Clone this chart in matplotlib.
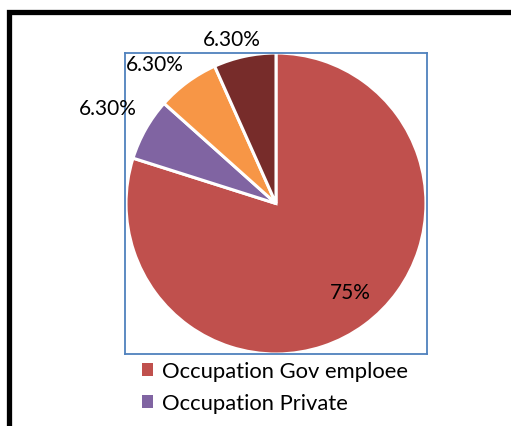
import numpy as np
import matplotlib.pyplot as plt
from matplotlib.patches import Rectangle, Patch

# values as shown in the data labels (Excel normalises them for the pie)
values = [75, 6.3, 6.3, 6.3]
labels = ['75%', '6.30%', '6.30%', '6.30%']
colors = ['#C0504D', '#8064A2', '#F79646', '#772C2A']
legend_names = ['Occupation Gov emploee', 'Occupation Private']
label_dist = [0.77, 1.29, 1.23, 1.13]
label_shift = [4, 0, 5, 3]  # degrees, nudges label angle from slice middle

plt.rcParams['font.family'] = ['Lato', 'DejaVu Sans']

W, H = 511, 427
fig = plt.figure(figsize=(W / 100, H / 100), dpi=100)

# thick black outer border (runs off the right and bottom edges)
fig.patches.append(Rectangle((8.5 / W, -0.1), 1.2, 1 - 12.5 / H + 0.1,
                             transform=fig.transFigure, fill=False,
                             edgecolor='black', linewidth=3.8))

ax = fig.add_axes([125 / W, 1 - 355 / H, 302 / W, 301 / H])
wedges, _ = ax.pie(values, colors=colors, startangle=90, counterclock=False,
                   radius=1, wedgeprops=dict(edgecolor='white', linewidth=2.2),
                   frame=True)
ax.set_xlim(-1.007, 1.007)
ax.set_ylim(-1.0, 1.0)
ax.set_aspect('auto')
ax.set_xticks([])
ax.set_yticks([])
for s in ax.spines.values():
    s.set_color('#4F81BD')
    s.set_linewidth(1.3)

for w, lab, d, sh in zip(wedges, labels, label_dist, label_shift):
    mid = np.deg2rad((w.theta1 + w.theta2) / 2 + sh)
    ax.text(d * np.cos(mid), d * np.sin(mid), lab, ha='center', va='center',
            fontsize=15, color='black', clip_on=False)

handles = [Patch(facecolor=c, edgecolor='none') for c in colors[:2]]
fig.legend(handles, legend_names, loc='upper left',
           bbox_to_anchor=(127 / W, 1 - 347 / H), frameon=False,
           fontsize=15.8, handlelength=0.5, handleheight=0.5,
           handletextpad=0.4, labelspacing=0.55, borderpad=0.2)

fig.savefig('out.png', dpi=100)
